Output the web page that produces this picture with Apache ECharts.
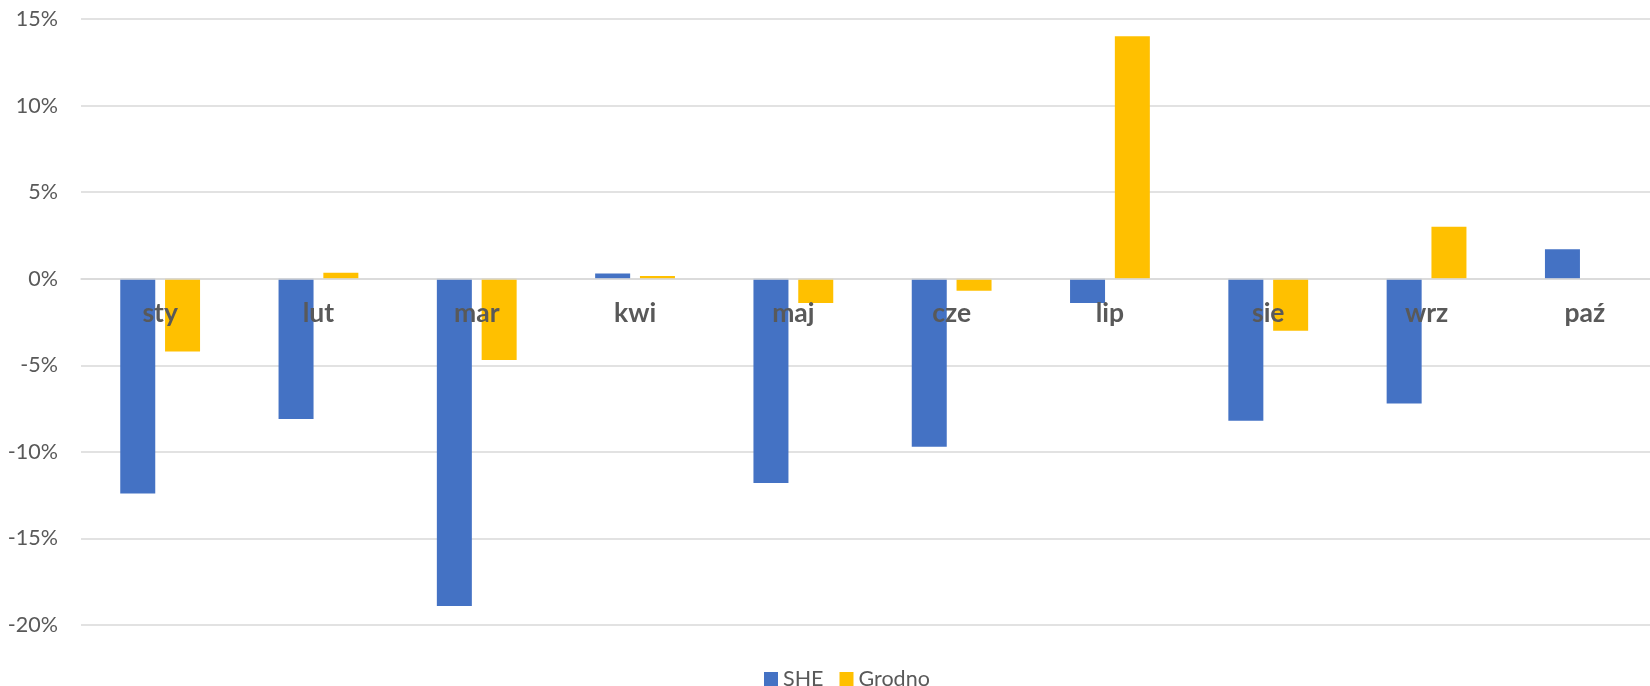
<!DOCTYPE html>
<html>
<head>
<meta charset="utf-8">
<title>SHE vs Grodno</title>
<script src="https://cdn.jsdelivr.net/npm/echarts@6/dist/echarts.min.js"></script>
<style>
  html, body { margin: 0; padding: 0; background: #ffffff; overflow: hidden; }
  /* the plot area runs slightly past the right edge of the window */
  #chart { width: 1670px; height: 686px; }
</style>
</head>
<body>
<div id="chart"></div>
<script>
// Month categories (Polish abbreviations)
const months = ['sty', 'lut', 'mar', 'kwi', 'maj', 'cze', 'lip', 'sie', 'wrz', 'paź'];

// Monthly change, in percent
const sheValues = [-12.4, -8.1, -18.9, 0.3, -11.8, -9.7, -1.4, -8.2, -7.2, 1.7];
const grodnoValues = [-4.2, 0.35, -4.7, 0.15, -1.4, -0.7, 14.0, -3.0, 3.0, null];

// Value axis ticks
const yMin = -20;
const yMax = 15;
const yStep = 5;

const seriesNames = ['SHE', 'Grodno'];
const colors = ['#4472C4', '#FFC000'];

const gridTop = 19;
const gridHeight = 606;

const chart = echarts.init(document.getElementById('chart'), null, { renderer: 'canvas' });

chart.setOption({
  animation: false,
  backgroundColor: '#ffffff',
  color: colors,
  textStyle: { fontFamily: 'Lato, "Open Sans", sans-serif' },
  grid: {
    left: 81,
    top: gridTop,
    width: 1583,
    height: gridHeight,
    containLabel: false
  },
  legend: {
    data: seriesNames,
    left: 764,
    top: 668,
    padding: 0,
    itemWidth: 14,
    itemHeight: 14,
    itemGap: 16,
    icon: 'rect',
    textStyle: { fontSize: 21.5, color: '#595959', fontFamily: 'Lato' }
  },
  xAxis: {
    type: 'category',
    data: months,
    axisLine: { show: true, onZero: false, lineStyle: { color: '#d9d9d9', width: 1.5 } },
    axisTick: { show: false },
    axisLabel: {
      margin: 21,
      fontSize: 26.5,
      fontWeight: 'bold',
      color: '#595959',
      fontFamily: 'Lato'
    },
    splitLine: { show: false },
    z: 10
  },
  yAxis: {
    type: 'value',
    min: yMin,
    max: yMax,
    interval: yStep,
    axisLine: { show: false },
    axisTick: { show: false },
    axisLabel: {
      margin: 23,
      fontSize: 21.5,
      color: '#595959',
      fontFamily: 'Lato',
      formatter: v => v + '%'
    },
    splitLine: { show: true, lineStyle: { color: '#d9d9d9', width: 1.5 } }
  },
  series: [
    {
      name: seriesNames[0],
      type: 'bar',
      data: sheValues,
      barWidth: 35,
      barGap: '28%',
      itemStyle: { color: colors[0] }
    },
    {
      name: seriesNames[1],
      type: 'bar',
      data: grodnoValues,
      barWidth: 35,
      barGap: '28%',
      itemStyle: { color: colors[1] }
    }
  ]
});

// Move the category axis (line and month labels) up to the 0% level
const zeroY = chart.convertToPixel({ yAxisIndex: 0 }, 0);
chart.setOption({ xAxis: { offset: -(gridTop + gridHeight - zeroY) } });
</script>
</body>
</html>
